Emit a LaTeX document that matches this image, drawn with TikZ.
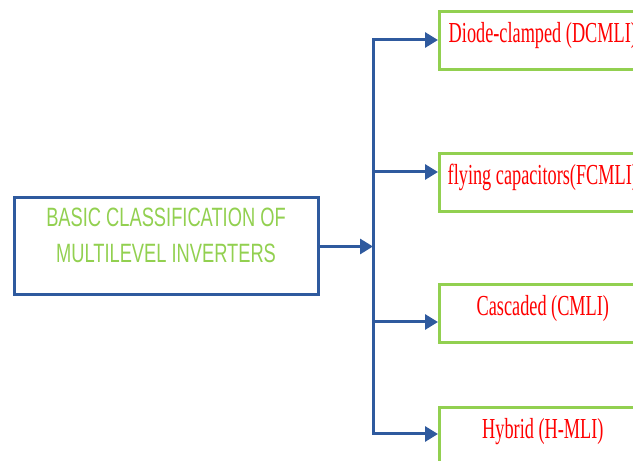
\documentclass[tikz,border=0pt]{standalone}
\usepackage{fontspec}
\usetikzlibrary{arrows.meta}
\newfontfamily\headfont[FakeStretch=0.69]{Liberation Sans}
\newfontfamily\typefont[FakeStretch=0.63]{Liberation Serif}
\definecolor{lineblue}{HTML}{2F5A9E}
\definecolor{boxgreen}{HTML}{92D050}
\begin{document}
\begin{tikzpicture}[x=1pt, y=1pt,
    trunk/.style={draw=lineblue, line width=3pt, line cap=rect},
    flow/.style={draw=lineblue, line width=3pt, -{Triangle[length=13pt,width=15pt]}},
    kind/.style={draw=boxgreen, line width=2.7pt, anchor=north west, minimum width=207pt, inner sep=0pt, text height=31pt, text depth=27pt, text=red, font=\typefont\fontsize{29}{34}\selectfont}]
    \useasboundingbox (0,0) rectangle (633,461);
    \node[draw=lineblue, line width=3pt, minimum width=304pt, inner sep=0pt, align=center, text=boxgreen, text height=65pt, text depth=32pt, font=\headfont\fontsize{26.5}{36}\selectfont] (basic) at (166,214.5) {BASIC CLASSIFICATION OF\\MULTILEVEL INVERTERS};
    \node[kind] (dcmli) at (438,451) {Diode-clamped (DCMLI)};
    \node[kind] (fcmli) at (438,309) {flying capacitors(FCMLI)};
    \node[kind] (cmli) at (438,178) {Cascaded (CMLI)};
    \node[kind] (hmli) at (438,55) {Hybrid (H-MLI)};
    \coordinate (hub) at (373,214.5);
    \coordinate (b1) at (373,421);
    \coordinate (b2) at (373,289);
    \coordinate (b3) at (373,139);
    \coordinate (b4) at (373,27);
    \draw[flow] (basic.east) -- (hub);
    \draw[trunk] (b1) -- (b4);
    \draw[flow] (b1) -- (b1 -| dcmli.west);
    \draw[flow] (b2) -- (b2 -| fcmli.west);
    \draw[flow] (b3) -- (b3 -| cmli.west);
    \draw[flow] (b4) -- (b4 -| hmli.west);
\end{tikzpicture}
\end{document}
